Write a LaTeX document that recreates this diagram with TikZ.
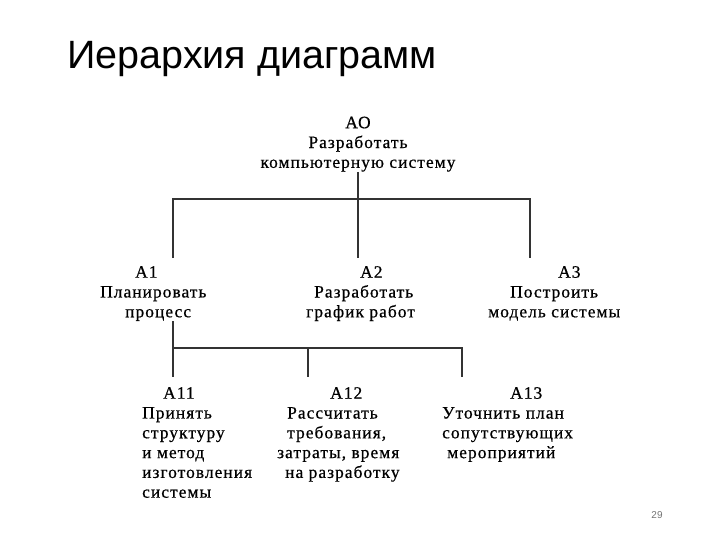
\documentclass[tikz,border=0pt]{standalone}
\usepackage{fontspec}
\setmainfont{Liberation Serif}
\newfontfamily\titlefont{Liberation Sans}
\newfontfamily\diafont[LetterSpace=6,FakeBold=0.6]{Liberation Serif}

\begin{document}
\begin{tikzpicture}[x=1pt,y=-1pt,
  txt/.style={inner sep=0pt,align=left,anchor=north west,
    font={\diafont\fontsize{17.4}{19.8}\selectfont}},
  link/.style={draw=black!80,line width=1.4pt}]
\useasboundingbox (0,0) rectangle (720,540);
% title
\node[font={\titlefont\fontsize{39.5}{44}\selectfont},anchor=base west,inner sep=0pt]
  (title) at (67,69) {Иерархия диаграмм};
% top block
\node[txt,align=center,anchor=north] (a0) at (358,116.5) {АО\\Разработать\\компьютерную систему};
% first level
\node[txt] (a1) at (100,266) {\hspace*{35pt}А1\\Планировать\\\hspace*{25pt}процесс};
\node[txt] (a2) at (306,266) {\hspace*{54pt}А2\\\hspace*{8pt}Разработать\\график работ};
\node[txt] (a3) at (488,266) {\hspace*{70pt}А3\\\hspace*{22pt}Построить\\модель системы};
% second level
\node[txt] (a11) at (142,387) {\hspace*{21pt}А11\\Принять\\структуру\\и метод\\изготовления\\системы};
\node[txt] (a12) at (277,387) {\hspace*{53pt}А12\\\hspace*{10pt}Рассчитать\\\hspace*{10pt}требования,\\затраты, время\\\hspace*{8pt}на разработку};
\node[txt] (a13) at (442,387) {\hspace*{68pt}А13\\Уточнить план\\сопутствующих\\\hspace*{5pt}мероприятий};
% page number
\node[font={\titlefont\fontsize{10}{12}\selectfont},text=black!55,inner sep=0pt] (pg) at (657,515) {29};
% connectors
\coordinate (b0) at (358,199);
\coordinate (b1) at (173,348);
\coordinate (j1) at (173,258);
\coordinate (j2) at (358,258);
\coordinate (j3) at (530,258);
\coordinate (j11) at (173,377);
\coordinate (j12) at (308,377);
\coordinate (j13) at (462,377);
\draw[link] (a0.south) -- (b0) -- (j2);
\draw[link] (j1) |- (b0) -| (j3);
\draw[link] (j1 |- a1.south) -- (j11);
\draw[link] (b1) -| (j13);
\draw[link] (j12 |- b1) -- (j12);
\end{tikzpicture}
\end{document}
